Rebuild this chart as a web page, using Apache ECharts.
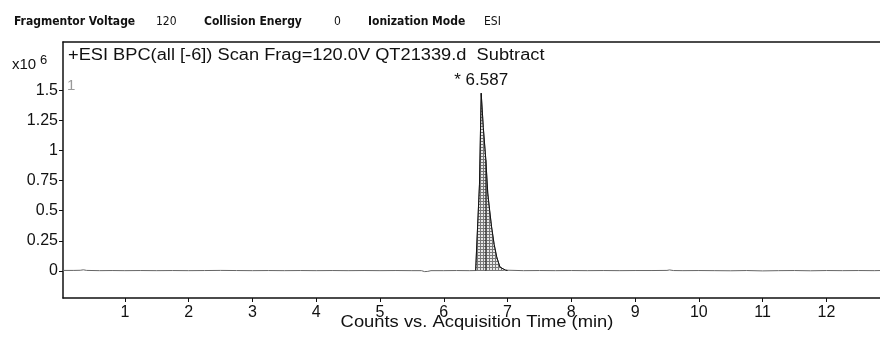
<!DOCTYPE html>
<html><head><meta charset="utf-8">
<script src="https://cdn.jsdelivr.net/npm/echarts@6/dist/echarts.min.js"></script>
<style>html,body{margin:0;padding:0;background:#fff;overflow:hidden}#c{width:880px;height:338px}</style>
</head><body><div id="c"></div>
<script>
// Acquisition time (min) and intensity (x10^6 counts)
const traceTimes = [0.03,0.2,0.3,0.35,0.4,0.6,0.8,1.0,1.25,1.5,1.75,2.0,2.25,2.5,2.75,3.0,3.25,3.5,3.75,4.0,4.25,4.5,4.75,5.0,5.25,5.5,5.65,5.7,5.72,5.75,5.8,6.0,6.2,6.4,6.5,6.53,6.56,6.587,6.62,6.66,6.69,6.72,6.75,6.79,6.83,6.88,6.93,6.97,7.0,7.25,7.5,7.75,8.0,8.25,8.5,8.75,9.0,9.25,9.5,9.54,9.6,9.75,10.0,10.25,10.5,10.75,11.0,11.25,11.5,11.75,12.0,12.25,12.5,12.75,12.84];
const traceValues = [0.004,0.004,0.005,0.009,0.004,0.002,0.003,0.002,0.003,0.002,0.003,0.002,0.003,0.004,0.003,0.002,0.003,0.002,0.003,0.002,0.003,0.002,0.003,0.002,0.003,0.002,0.002,-0.006,-0.012,-0.004,0.002,0.002,0.003,0.002,0.003,0.005,0.72,1.475,1.19,0.92,0.646,0.50,0.365,0.22,0.116,0.033,0.017,0.006,0.003,0.002,0.003,0.002,0.003,0.002,0.003,0.002,0.003,0.003,0.004,0.008,0.003,0.002,0.003,0.002,0.001,0.003,0.0,0.002,0.003,0.001,0.003,0.002,0.003,0.002,0.003];
const shoulderTime = 6.66, shoulderValue = 0.92;
const peakLabel = '* 6.587', peakTime = 6.587, peakValue = 1.475;
const yTicks = [0,0.25,0.5,0.75,1,1.25,1.5];
const xTicks = [1,2,3,4,5,6,7,8,9,10,11,12];
const headerItems = [
  ['Fragmentor Voltage', true, 14], ['120', false, 156], ['Collision Energy', true, 204],
  ['0', false, 334], ['Ionization Mode', true, 368], ['ESI', false, 484]
];
const titleText = '+ESI BPC(all [-6]) Scan Frag=120.0V QT21339.d  Subtract';
const xTitle = 'Counts vs. Acquisition Time (min)';

const trace = traceTimes.map((t,i)=>[t, traceValues[i]]);
const peakFill = trace.filter(p => p[0] >= 6.5 && p[0] <= 7.0);

// hatch pattern
const pc = document.createElement('canvas'); pc.width = 3; pc.height = 3;
const pctx = pc.getContext('2d');
pctx.fillStyle = '#e8e8e8'; pctx.fillRect(0,0,3,3);
pctx.fillStyle = '#777'; pctx.fillRect(0,0,3,1); pctx.fillRect(0,0,1,3);

const chart = echarts.init(document.getElementById('c'), null, {renderer:'canvas'});
const FONT = '"Liberation Sans", Arial, sans-serif';
const graphics = headerItems.map(h => ({
  type:'text', x:h[2], y:22,
  style:{text:h[0], font:(h[1]?'bold ':'')+'12px "DejaVu Sans Condensed","Liberation Sans", sans-serif', fill:'#111', verticalAlign:'middle'}
}));
graphics.push(
  {type:'text', x:12, y:65, style:{text:'x10', font:'15px '+FONT, fill:'#111', verticalAlign:'middle'}},
  {type:'text', x:40, y:60, style:{text:'6', font:'13px '+FONT, fill:'#111', verticalAlign:'middle'}},
  {type:'text', x:68, y:55.5, scaleX:1.14, style:{text:titleText, font:'16px '+FONT, fill:'#111', verticalAlign:'middle'}},
  {type:'text', x:67, y:86, style:{text:'1', font:'15px '+FONT, fill:'#999', verticalAlign:'middle'}},
  {type:'text', x:477, y:322, scaleX:1.08, style:{text:xTitle, font:'17px '+FONT, fill:'#111', align:'center', verticalAlign:'middle'}}
);

chart.setOption({
  animation:false,
  grid:{left:63, top:42, right:0, bottom:40, containLabel:false, outerBoundsMode:'none'},
  xAxis:[{
    type:'value', min:0.03, max:12.84, position:'bottom',
    axisLine:{show:true, onZero:false, lineStyle:{color:'#111', width:1.5}},
    axisTick:{show:true, length:4, customValues:xTicks, lineStyle:{color:'#111'}},
    axisLabel:{customValues:xTicks, fontFamily:FONT, fontSize:16, color:'#111', margin:7},
    splitLine:{show:false}
  },{
    type:'value', min:0.03, max:12.84, position:'top',
    axisLine:{show:true, onZero:false, lineStyle:{color:'#111', width:1.5}},
    axisTick:{show:false}, axisLabel:{show:false}, splitLine:{show:false}
  }],
  yAxis:{
    type:'value', min:-0.225, max:1.9,
    axisLine:{show:true, onZero:false, lineStyle:{color:'#111', width:1.5}},
    axisTick:{show:true, length:4, customValues:yTicks, lineStyle:{color:'#111'}},
    axisLabel:{customValues:yTicks, fontFamily:FONT, fontSize:16, color:'#111', margin:5},
    splitLine:{show:false}
  },
  graphic:graphics,
  series:[
    {type:'line', data:peakFill, symbol:'none', silent:true,
     lineStyle:{width:0}, areaStyle:{color:{image:pc, repeat:'repeat'}, opacity:1}, z:1},
    {type:'line', data:[[shoulderTime,0],[shoulderTime,shoulderValue]], symbol:'none',
     lineStyle:{color:'#222', width:1}, z:2},
    {type:'line', data:trace, symbol:'none', lineStyle:{color:'#666', width:1}, z:3,
     markPoint:{symbol:'circle', symbolSize:0, data:[{coord:[peakTime,peakValue]}],
       label:{show:true, position:'top', distance:4, formatter:peakLabel, fontFamily:FONT, fontSize:17, color:'#111'}}},
    {type:'line', data:peakFill, symbol:'none', lineStyle:{color:'#111', width:1}, z:4}
  ]
});
</script></body></html>
